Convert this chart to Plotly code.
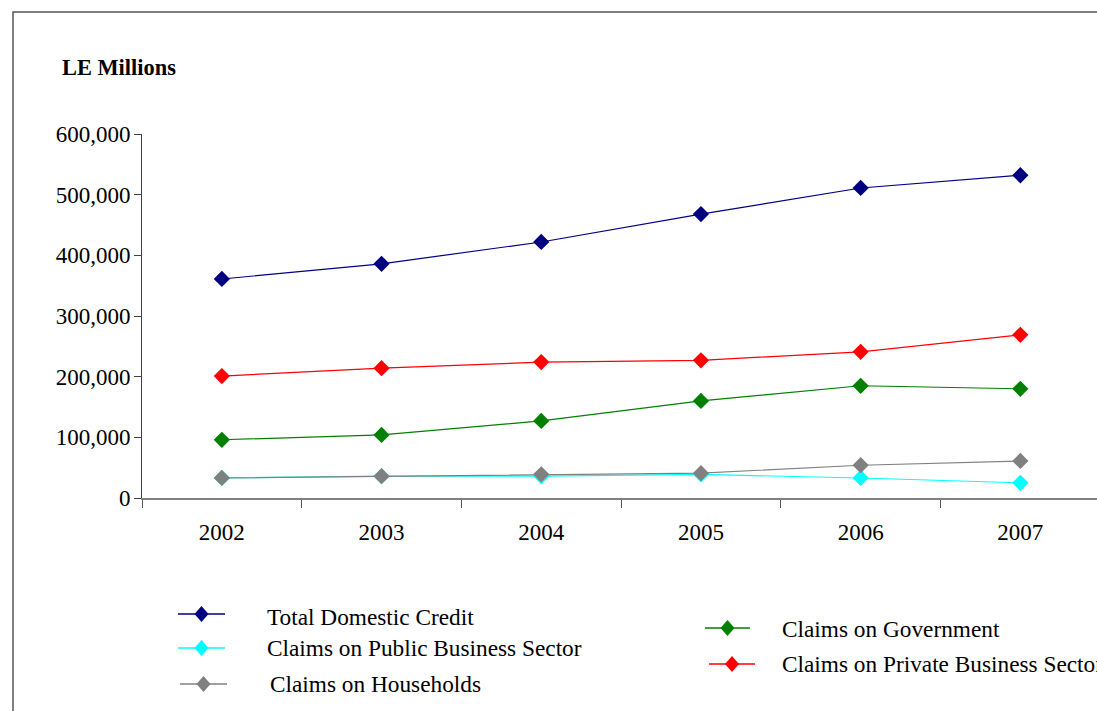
import plotly.graph_objects as go

years = ["2002", "2003", "2004", "2005", "2006", "2007"]
total_domestic_credit = [361000, 386000, 422000, 468000, 511000, 532000]
claims_public_business = [33000, 36000, 36000, 39000, 33000, 25000]
claims_households = [33000, 36000, 39000, 41000, 54000, 61000]
claims_government = [96000, 104000, 127000, 160000, 185000, 180000]
claims_private_business = [201000, 214000, 224000, 227000, 241000, 269000]

series = [
    ("Total Domestic Credit", total_domestic_credit, "#000080"),
    ("Claims on Public Business Sector", claims_public_business, "#00FFFF"),
    ("Claims on Households", claims_households, "#808080"),
    ("Claims on Government", claims_government, "#008000"),
    ("Claims on Private Business Sector", claims_private_business, "#FF0000"),
]

W, H = 1097, 711
L, R, T, B = 142, 0, 134, 213
FONT = "Liberation Serif, Times New Roman, serif"


def px(x):
    return (x - L) / (W - L - R)


def py(y):
    return (H - B - y) / (H - T - B)


fig = go.Figure()
for name, vals, col in series:
    fig.add_trace(go.Scatter(
        x=years, y=vals, name=name, mode="lines+markers",
        line=dict(color=col, width=1.2),
        marker=dict(symbol="diamond", size=12.5, color=col),
        showlegend=False,
    ))

shapes = []
annotations = []

# outer border
shapes.append(dict(type="rect", xref="paper", yref="paper",
                   x0=px(13), x1=px(1115), y0=py(725), y1=py(12),
                   line=dict(color="#555555", width=1.5), layer="below"))

# manual legend
legend_items = [
    (0, 178, 225, 614, 265, 617),
    (1, 178, 225, 648, 265, 648),
    (2, 180, 227, 684, 268, 684),
    (3, 705, 750, 628, 780, 629),
    (4, 709, 755, 664, 780, 664),
]
for idx, lx0, lx1, ly, tx, ty in legend_items:
    name, _, col = series[idx]
    shapes.append(dict(type="line", xref="paper", yref="paper",
                       x0=px(lx0), x1=px(lx1), y0=py(ly), y1=py(ly),
                       line=dict(color=col, width=1.5)))
    cx = (lx0 + lx1) / 2
    d = 8
    path = (f"M {px(cx)},{py(ly - d)} L {px(cx + 7)},{py(ly)} "
            f"L {px(cx)},{py(ly + d)} L {px(cx - 7)},{py(ly)} Z")
    shapes.append(dict(type="path", xref="paper", yref="paper", path=path,
                       fillcolor=col, line=dict(color=col, width=0)))
    annotations.append(dict(xref="paper", yref="paper", x=px(tx), y=py(ty),
                            xanchor="left", yanchor="middle", showarrow=False,
                            text=name, font=dict(family=FONT, size=23.3, color="#000000")))

annotations.append(dict(xref="paper", yref="paper", x=px(60), y=py(67),
                        xanchor="left", yanchor="middle", showarrow=False,
                        text="<b>LE Millions</b>",
                        font=dict(family=FONT, size=22.4, color="#000000")))

fig.update_layout(
    width=W, height=H,
    margin=dict(l=L, r=R, t=T, b=B, pad=0),
    paper_bgcolor="white", plot_bgcolor="white",
    shapes=shapes, annotations=annotations,
    font=dict(family=FONT, color="#000000"),
    xaxis=dict(type="category", range=[-0.5, 5.48], tickson="boundaries",
               ticks="outside", ticklen=8, tickcolor="#555555", tickwidth=1,
               showline=True, linecolor="#808080", linewidth=2,
               showgrid=False, zeroline=False,
               tickfont=dict(family=FONT, size=23, color="#000000"),
               ticklabelstandoff=12),
    yaxis=dict(range=[0, 600000], dtick=100000, tickformat=",",
               ticks="outside", ticklen=7, tickcolor="#404040",
               showline=True, linecolor="#404040", linewidth=1,
               showgrid=False, zeroline=False,
               tickfont=dict(family=FONT, size=23, color="#000000"),
               ticklabelstandoff=-1),
    showlegend=False,
)

fig.write_html("out.html")
